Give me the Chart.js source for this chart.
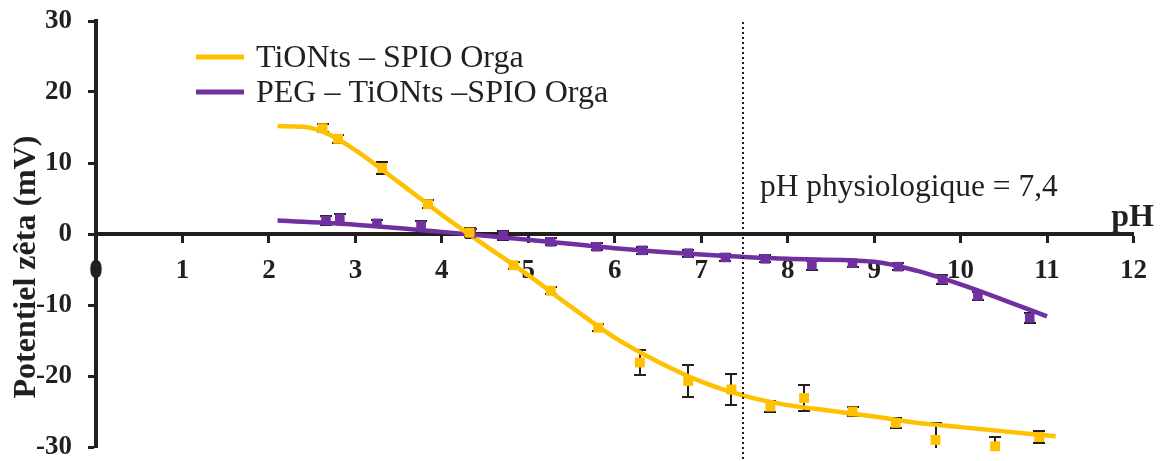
<!DOCTYPE html>
<html>
<head>
<meta charset="utf-8">
<script src="https://cdn.jsdelivr.net/npm/chart.js@4.4.0/dist/chart.umd.min.js"></script>
<style>
  html, body { margin: 0; padding: 0; background: #fff; }
  #wrap { position: relative; width: 1161px; height: 461px; }
</style>
</head>
<body>
<div id="wrap"><canvas id="zeta"></canvas></div>
<script>
const seriesNames = ['TiONts \u2013 SPIO Orga', 'PEG \u2013 TiONts \u2013SPIO Orga'];

const orangePH   = [2.62, 2.80, 3.31, 3.84, 4.32, 4.83, 5.26, 5.81, 6.29, 6.85, 7.35, 7.80, 8.19, 8.75, 9.25, 9.71, 10.40, 10.91];
const orangeZeta = [14.9, 13.4, 9.3, 4.2, 0.2, -4.4, -8.0, -13.2, -18.1, -20.7, -21.9, -24.3, -23.1, -25.0, -26.6, -29.0, -29.9, -28.6];
const orangeErr  = [0.6, 0.6, 0.9, 0.6, 0.6, 0.5, 0.5, 0.5, 1.7, 2.2, 2.2, 0.8, 1.8, 0.6, 0.7, 2.4, 1.3, 0.9];

const purplePH   = [2.66, 2.82, 3.25, 3.76, 4.34, 4.71, 5.26, 5.79, 6.32, 6.85, 7.28, 7.74, 8.28, 8.75, 9.28, 9.79, 10.20, 10.80];
const purpleZeta = [1.9, 2.2, 1.5, 1.2, 0.1, -0.2, -1.1, -1.8, -2.3, -2.7, -3.3, -3.5, -4.4, -4.1, -4.6, -6.4, -8.7, -11.8];
const purpleErr  = [0.6, 0.6, 0.5, 0.6, 0.6, 0.6, 0.5, 0.5, 0.5, 0.5, 0.5, 0.5, 0.6, 0.5, 0.5, 0.6, 0.6, 0.7];

// trend curves
const orangeFitPH   = [2.1, 2.4, 2.7, 3.0, 3.5, 4.0, 4.5, 5.0, 5.5, 6.0, 6.5, 7.0, 7.5, 8.0, 8.5, 9.0, 9.5, 10.0, 10.5, 11.1];
const orangeFitZeta = [15.2, 15.1, 14.0, 11.8, 7.3, 2.7, -1.6, -5.8, -10.3, -14.6, -18.0, -20.8, -22.8, -24.1, -24.9, -25.7, -26.6, -27.2, -27.8, -28.5];
const purpleFitPH   = [2.1, 3.0, 4.0, 5.0, 6.0, 7.0, 8.0, 9.0, 9.5, 10.0, 10.5, 11.0];
const purpleFitZeta = [1.9, 1.3, 0.3, -0.8, -2.0, -2.9, -3.5, -3.9, -5.2, -7.1, -9.3, -11.6];

const xTickValues = [0, 1, 2, 3, 4, 5, 6, 7, 8, 9, 10, 11, 12];
const yTickValues = [-30, -20, -10, 0, 10, 20, 30];

const physioPH = 7.48;
const physioLabel = 'pH physiologique = 7,4';

const ORANGE = '#FFC000';
const PURPLE = '#7030A0';
const INK = '#231F20';
const SERIF = '"Liberation Serif", "Times New Roman", serif';

function pts(xs, ys) {
  return xs.map(function (x, i) { return { x: x, y: ys[i] }; });
}

// vertical error bars, drawn under the markers and clipped to the plot area
const errorBars = {
  id: 'errorBars',
  beforeDatasetsDraw: function (chart) {
    const ctx = chart.ctx;
    const xs = chart.scales.x, ys = chart.scales.y;
    const area = chart.chartArea;
    ctx.save();
    ctx.beginPath();
    ctx.rect(area.left, area.top, area.right - area.left, area.bottom - area.top + 1);
    ctx.clip();
    ctx.strokeStyle = INK;
    ctx.lineWidth = 2;
    chart.data.datasets.forEach(function (ds) {
      if (!ds.errors) return;
      ds.data.forEach(function (p, i) {
        const px = Math.round(xs.getPixelForValue(p.x));
        const top = Math.round(ys.getPixelForValue(p.y + ds.errors[i]));
        const bot = Math.round(ys.getPixelForValue(p.y - ds.errors[i]));
        ctx.beginPath();
        ctx.moveTo(px, top); ctx.lineTo(px, bot);
        ctx.moveTo(px - 6, top); ctx.lineTo(px + 6, top);
        ctx.moveTo(px - 6, bot); ctx.lineTo(px + 6, bot);
        ctx.stroke();
      });
    });
    ctx.restore();
  }
};

// dotted physiological line, texts, legend, axis titles
const decorations = {
  id: 'decorations',
  afterDraw: function (chart) {
    const ctx = chart.ctx;
    const xs = chart.scales.x;
    const area = chart.chartArea;
    ctx.save();

    const vx = Math.round(xs.getPixelForValue(physioPH));
    ctx.strokeStyle = INK;
    ctx.lineWidth = 2;
    ctx.setLineDash([2, 3]);
    ctx.beginPath();
    ctx.moveTo(vx, area.top + 1);
    ctx.lineTo(vx, chart.height);
    ctx.stroke();
    ctx.setLineDash([]);

    ctx.fillStyle = INK;
    ctx.textBaseline = 'alphabetic';
    ctx.font = '31.5px ' + SERIF;
    ctx.textAlign = 'left';
    ctx.fillText(physioLabel, 760, 196);

    // legend
    const colors = [ORANGE, PURPLE];
    const rows = [57, 92];
    ctx.font = '32px ' + SERIF;
    seriesNames.forEach(function (name, i) {
      ctx.strokeStyle = colors[i];
      ctx.lineWidth = 5;
      ctx.beginPath();
      ctx.moveTo(196, rows[i]);
      ctx.lineTo(244, rows[i]);
      ctx.stroke();
      ctx.fillText(name, 256, rows[i] + 10);
    });

    // axis titles
    ctx.font = 'bold 32px ' + SERIF;
    ctx.textAlign = 'right';
    ctx.fillText('pH', 1154, 226);

    ctx.translate(35, 267);
    ctx.rotate(-Math.PI / 2);
    ctx.textAlign = 'center';
    ctx.fillText('Potentiel z\u00eata (mV)', 0, 0);
    ctx.restore();
  }
};

new Chart(document.getElementById('zeta'), {
  type: 'scatter',
  data: {
    datasets: [
      {
        label: seriesNames[0],
        data: pts(orangePH, orangeZeta),
        errors: orangeErr,
        pointStyle: 'rect',
        pointRadius: 7,
        backgroundColor: ORANGE,
        borderColor: ORANGE,
        borderWidth: 0,
        clip: false
      },
      {
        label: seriesNames[1],
        data: pts(purplePH, purpleZeta),
        errors: purpleErr,
        pointStyle: 'rect',
        pointRadius: 6.8,
        backgroundColor: PURPLE,
        borderColor: PURPLE,
        borderWidth: 0,
        clip: false
      },
      {
        type: 'line',
        data: pts(orangeFitPH, orangeFitZeta),
        borderColor: ORANGE,
        borderWidth: 4.5,
        pointRadius: 0,
        cubicInterpolationMode: 'monotone',
        fill: false,
        clip: false
      },
      {
        type: 'line',
        data: pts(purpleFitPH, purpleFitZeta),
        borderColor: PURPLE,
        borderWidth: 4.5,
        pointRadius: 0,
        cubicInterpolationMode: 'monotone',
        fill: false,
        clip: false
      }
    ]
  },
  options: {
    responsive: true,
    maintainAspectRatio: false,
    animation: false,
    layout: { padding: { left: 0, top: 21, right: 21, bottom: 14 } },
    plugins: {
      legend: { display: false },
      tooltip: { enabled: false }
    },
    scales: {
      x: {
        type: 'linear',
        position: { y: 0 },
        min: 0,
        max: 12,
        afterBuildTicks: function (axis) {
          axis.ticks = xTickValues.map(function (v) { return { value: v }; });
        },
        grid: { display: true, drawOnChartArea: false, drawTicks: true, tickLength: 7, tickWidth: 3, tickColor: INK },
        border: { display: true, color: INK, width: 4 },
        ticks: { color: INK, font: { family: SERIF, size: 27, weight: 'bold' }, padding: 14, maxRotation: 0 }
      },
      y: {
        type: 'linear',
        position: 'left',
        min: -30,
        max: 30,
        afterBuildTicks: function (axis) {
          axis.ticks = yTickValues.map(function (v) { return { value: v }; });
        },
        afterFit: function (scale) {
          // fixed axis gutter; end labels may overhang the plot edges
          scale.width = 96;
          scale.paddingTop = 0;
          scale.paddingBottom = 0;
        },
        grid: { display: true, drawOnChartArea: false, drawTicks: true, tickLength: 8, tickWidth: 3, tickColor: INK },
        border: { display: true, color: INK, width: 4 },
        ticks: { color: INK, font: { family: SERIF, size: 27, weight: 'bold' }, padding: 16 }
      }
    }
  },
  plugins: [errorBars, decorations]
});
</script>
</body>
</html>
